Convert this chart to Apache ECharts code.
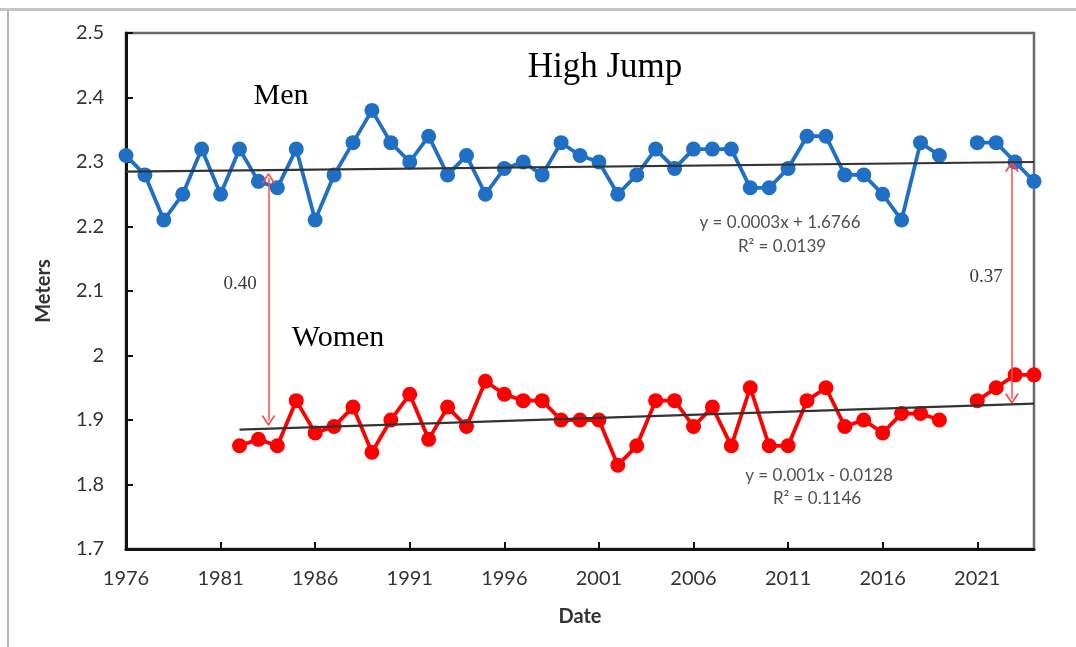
<!DOCTYPE html>
<html>
<head>
<meta charset="utf-8">
<script src="https://cdn.jsdelivr.net/npm/echarts@6/dist/echarts.min.js"></script>
<style>
html,body{margin:0;padding:0;background:#fff;}
#chart{width:1076px;height:647px;}
</style>
</head>
<body>
<div id="chart"></div>
<script>
// ---- data ----
const menYears = [1976,1977,1978,1979,1980,1981,1982,1983,1984,1985,1986,1987,1988,1989,1990,1991,1992,1993,1994,1995,1996,1997,1998,1999,2000,2001,2002,2003,2004,2005,2006,2007,2008,2009,2010,2011,2012,2013,2014,2015,2016,2017,2018,2019,2020,2021,2022,2023,2024];
const menValues = [2.31,2.28,2.21,2.25,2.32,2.25,2.32,2.27,2.26,2.32,2.21,2.28,2.33,2.38,2.33,2.30,2.34,2.28,2.31,2.25,2.29,2.30,2.28,2.33,2.31,2.30,2.25,2.28,2.32,2.29,2.32,2.32,2.32,2.26,2.26,2.29,2.34,2.34,2.28,2.28,2.25,2.21,2.33,2.31,null,2.33,2.33,2.30,2.27];
const womenYears = [1982,1983,1984,1985,1986,1987,1988,1989,1990,1991,1992,1993,1994,1995,1996,1997,1998,1999,2000,2001,2002,2003,2004,2005,2006,2007,2008,2009,2010,2011,2012,2013,2014,2015,2016,2017,2018,2019,2020,2021,2022,2023,2024];
const womenValues = [1.86,1.87,1.86,1.93,1.88,1.89,1.92,1.85,1.90,1.94,1.87,1.92,1.89,1.96,1.94,1.93,1.93,1.90,1.90,1.90,1.83,1.86,1.93,1.93,1.89,1.92,1.86,1.95,1.86,1.86,1.93,1.95,1.89,1.90,1.88,1.91,1.91,1.90,null,1.93,1.95,1.97,1.97];
const menTrend = [[1976,2.285],[2024,2.300]];
const womenTrend = [[1982,1.885],[2024,1.9255]];
const gapArrowLeft = [[1983.53,2.275],[1983.53,1.899]];
const gapArrowRight = [[2022.83,2.293],[2022.83,1.933]];
const gapLabels = ['0.40','0.37'];
const menEq = ['y = 0.0003x + 1.6766','R\u00B2 = 0.0139'];
const womenEq = ['y = 0.001x - 0.0128','R\u00B2 = 0.1146'];

const pairs = (xs, ys) => xs.map((x,i) => [x, ys[i] === null ? '-' : ys[i]]);

const chart = echarts.init(document.getElementById('chart'), null, {renderer:'canvas'});
const sans = 'Lato, "Liberation Sans", sans-serif';
const serif = '"Liberation Serif", "DejaVu Serif", serif';
const chevron = 'path://M5,0 L10,9 L8.8,9.6 L5,2.6 L1.2,9.6 L0,9 Z';

const option = {
  backgroundColor:'#ffffff',
  animation:false,
  title:[
    {text:'High Jump', left:600, top:45, textAlign:'center', textStyle:{fontFamily:serif, fontSize:35, fontWeight:'normal', color:'#000'}},
    {text:'Men', left:276, top:76, textAlign:'center', textStyle:{fontFamily:serif, fontSize:30, fontWeight:'normal', color:'#000'}},
    {text:'Women', left:333, top:318, textAlign:'center', textStyle:{fontFamily:serif, fontSize:30, fontWeight:'normal', color:'#000'}},
    {text:gapLabels[0], left:235, top:270, textAlign:'center', textStyle:{fontFamily:serif, fontSize:19, fontWeight:'normal', color:'#3a3a3a'}},
    {text:gapLabels[1], left:981, top:263, textAlign:'center', textStyle:{fontFamily:serif, fontSize:19, fontWeight:'normal', color:'#3a3a3a'}},
    {text:menEq[0], left:775, top:209, textAlign:'center', textStyle:{fontFamily:sans, fontSize:17, fontWeight:'normal', color:'#505050'}},
    {text:menEq[1], left:777, top:233, textAlign:'center', textStyle:{fontFamily:sans, fontSize:17, fontWeight:'normal', color:'#505050'}},
    {text:womenEq[0], left:814, top:462, textAlign:'center', textStyle:{fontFamily:sans, fontSize:17, fontWeight:'normal', color:'#505050'}},
    {text:womenEq[1], left:812, top:485, textAlign:'center', textStyle:{fontFamily:sans, fontSize:17, fontWeight:'normal', color:'#505050'}}
  ],
  grid:{left:126, right:42, top:33, bottom:98, show:true, borderColor:'#6a6a6a', borderWidth:2.5, backgroundColor:'transparent'},
  xAxis:{
    type:'value', min:1976, max:2024, interval:5,
    name:'Date', nameLocation:'middle', nameGap:58,
    nameTextStyle:{fontFamily:sans, fontSize:20, fontWeight:'bold', color:'#333'},
    axisLine:{show:true, onZero:false, lineStyle:{color:'#111', width:3}},
    axisTick:{show:true, inside:true, length:7, lineStyle:{color:'#111', width:2}},
    axisLabel:{showMaxLabel:false, margin:20, fontFamily:sans, fontSize:20, color:'#333', formatter:v=>String(v)},
    splitLine:{show:false}
  },
  yAxis:{
    type:'value', min:1.7, max:2.5, interval:0.1,
    name:'Meters', nameLocation:'middle', nameGap:72, nameRotate:90,
    nameTextStyle:{fontFamily:sans, fontSize:20, fontWeight:'bold', color:'#333'},
    axisLine:{show:true, onZero:false, lineStyle:{color:'#111', width:3}},
    axisTick:{show:true, inside:true, length:7, lineStyle:{color:'#111', width:2}},
    axisLabel:{margin:22, fontFamily:sans, fontSize:20, color:'#333', formatter:v=>String(Math.round(v*10)/10)},
    splitLine:{show:false}
  },
  series:[
    {type:'line', name:'Men', data:pairs(menYears, menValues), connectNulls:false,
     symbol:'circle', symbolSize:15, itemStyle:{color:'#1f6fc5'}, lineStyle:{color:'#1f6fc5', width:3.8}, z:3},
    {type:'line', name:'Women', data:pairs(womenYears, womenValues), connectNulls:false,
     symbol:'circle', symbolSize:15, itemStyle:{color:'#ff0000'}, lineStyle:{color:'#ff0000', width:3.8}, z:3},
    {type:'line', name:'Men trend', data:menTrend, symbol:'none', lineStyle:{color:'#333', width:2.2}, z:5, silent:true},
    {type:'line', name:'Women trend', data:womenTrend, symbol:'none', lineStyle:{color:'#333', width:2.2}, z:5, silent:true,
     markLine:{silent:true, symbol:[chevron, chevron], symbolSize:[14,11],
       lineStyle:{color:'#ff4a4a', width:1.5, type:'solid'}, label:{show:false},
       data:[
         [{coord:gapArrowLeft[0]},{coord:gapArrowLeft[1]}],
         [{coord:gapArrowRight[0]},{coord:gapArrowRight[1]}]
       ]}}
  ],
  graphic:[
    {type:'line', silent:true, shape:{x1:0, y1:9.5, x2:1076, y2:9.5}, style:{stroke:'#c4c4c4', lineWidth:3}},
    {type:'line', silent:true, shape:{x1:8, y1:11, x2:8, y2:647}, style:{stroke:'#b4b4b4', lineWidth:2}}
  ]
};
chart.setOption(option);
</script>
</body>
</html>
